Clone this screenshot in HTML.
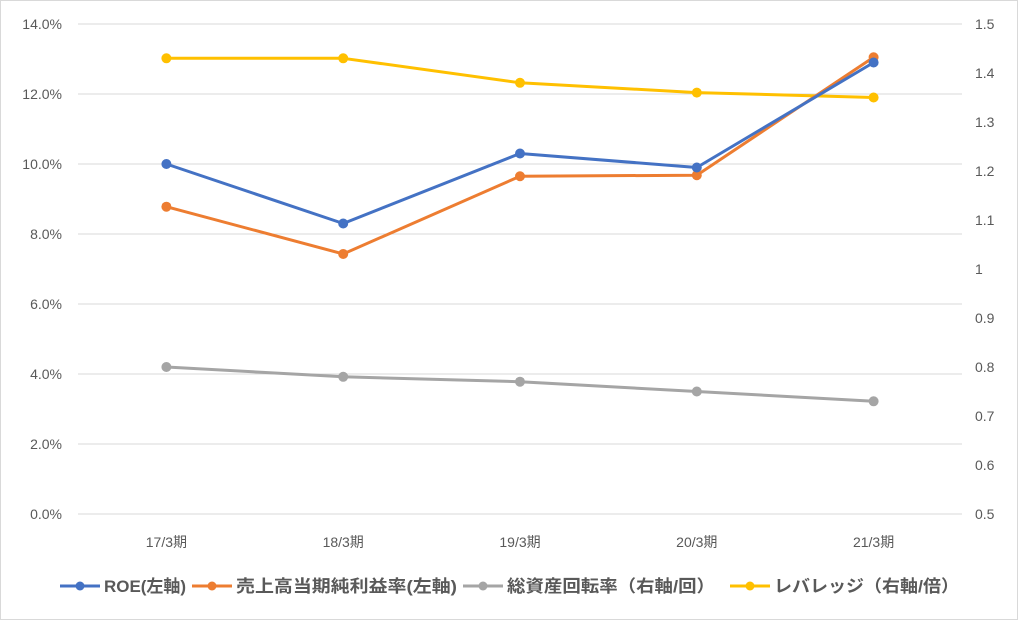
<!DOCTYPE html>
<html><head><meta charset="utf-8"><style>
body{margin:0;background:#fff;}
svg text{font-family:"Liberation Sans","Noto Sans CJK JP",sans-serif;fill:#595959;}
</style></head><body>
<svg id="chart" width="1018" height="620" xmlns="http://www.w3.org/2000/svg">
<rect x="0.5" y="0.5" width="1017" height="619" fill="#fff" stroke="#d9d9d9"/>
<g id="grid"></g><g id="axes"></g><g id="series"></g><g id="legend"></g>
</svg>
<script>
const categories=["17/3期","18/3期","19/3期","20/3期","21/3期"];
const roe=[10.0,8.3,10.3,9.9,12.9];
const margin=[8.78,7.43,9.65,9.68,13.05];
const turnover=[0.80,0.78,0.77,0.75,0.73];
const leverage=[1.43,1.43,1.38,1.36,1.35];
const leftTicks=[0,2,4,6,8,10,12,14];
const rightTicks=[0.5,0.6,0.7,0.8,0.9,1,1.1,1.2,1.3,1.4,1.5];
const seriesNames=["ROE(左軸)","売上高当期純利益率(左軸)","総資産回転率（右軸/回）","レバレッジ（右軸/倍）"];
const colors=["#4472c4","#ed7d31","#a5a5a5","#ffc000"];
const NS="http://www.w3.org/2000/svg";
const L=78,R=962,T=24,B=514;
const x=i=>L+(R-L)/categories.length*(i+0.5);
const yL=v=>B-(v/14)*(B-T);
const yR=v=>B-((v-0.5)/1.0)*(B-T);
function mk(tag,attrs,parent,txt){const e=document.createElementNS(NS,tag);for(const k in attrs)e.setAttribute(k,attrs[k]);if(txt!=null)e.textContent=txt;document.getElementById(parent).appendChild(e);return e;}
leftTicks.forEach(t=>{
 const g=mk('line',{x1:L,x2:R,y1:yL(t),y2:yL(t),stroke:'#d9d9d9','stroke-width':1},'grid');
 
 
 const tx=mk('text',{x:62,y:yL(t)+5,'text-anchor':'end','font-size':14},'axes',t.toFixed(1)+'%');
 
 
});
rightTicks.forEach(t=>{
 const tx=mk('text',{x:975,y:yR(t)+5,'text-anchor':'start','font-size':14},'axes',String(t));
 
 
});
categories.forEach((c,i)=>{
 const tx=mk('text',{x:x(i),y:547,'text-anchor':'middle','font-size':14},'axes',c);
 
 
});
const data=[[roe,yL],[margin,yL],[turnover,yR],[leverage,yR]];
const order=[2,3,1,0];
order.forEach(s=>{
 const [vals,sc]=data[s];
 const pts=vals.map((v,i)=>x(i)+','+sc(v)).join(' ');
 const pl=mk('polyline',{points:pts,fill:'none',stroke:colors[s],'stroke-width':3,'stroke-linejoin':'round'},'series');
 
 
 vals.forEach((v,i)=>{
  const c=mk('circle',{cx:x(i),cy:sc(v),r:5,fill:colors[s]},'series');
  
  
 });
});
const lx=[60,192,463,730];
const lw=[82,221,208,185];
seriesNames.forEach((n,s)=>{
 const a=lx[s];
 const l=mk('line',{x1:a,x2:a+40,y1:586,y2:586,stroke:colors[s],'stroke-width':3},'legend');
 
 
 const c=mk('circle',{cx:a+20,cy:586,r:4.5,fill:colors[s]},'legend');
 
 
 const t=mk('text',{x:a+44,y:592,'font-size':17,'font-weight':'bold',textLength:lw[s],lengthAdjust:'spacingAndGlyphs'},'legend',n);
 
 
});
</script>
</body></html>
